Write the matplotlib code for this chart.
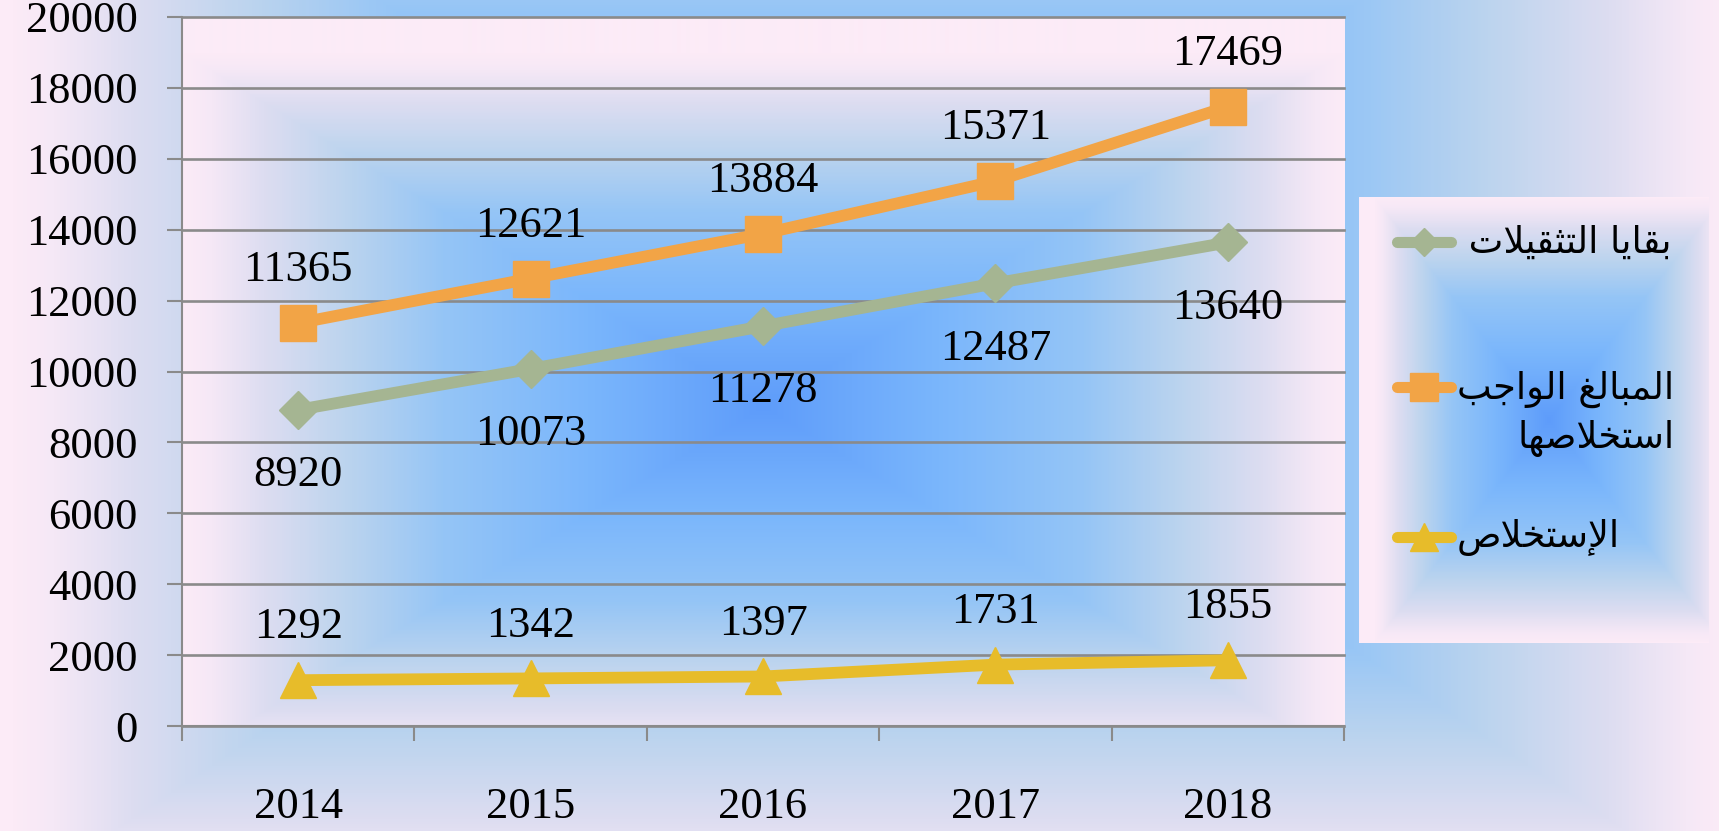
import numpy as np
import matplotlib
matplotlib.use("Agg")
import matplotlib.pyplot as plt
from matplotlib.colors import LinearSegmentedColormap
from matplotlib.lines import Line2D

# data
years = ["2014", "2015", "2016", "2017", "2018"]
remaining = [8920, 10073, 11278, 12487, 13640]   # بقايا التثقيلات
due = [11365, 12621, 13884, 15371, 17469]        # المبالغ الواجب استخلاصها
collected = [1292, 1342, 1397, 1731, 1855]       # الإستخلاص
yticks = list(range(0, 20001, 2000))

# Arabic labels written with presentation forms (logical order), reversed for display
lbl_remaining = "\uFE91\uFED8\uFE8E\uFEF3\uFE8E \uFE8D\uFEDF\uFE98\uFE9C\uFED8\uFEF4\uFEFC\uFE95 "
lbl_due_1 = "\uFE8D\uFEDF\uFEE4\uFE92\uFE8E\uFEDF\uFECE \uFE8D\uFEDF\uFEEE\uFE8D\uFE9F\uFE90"
lbl_due_2 = "\uFE8D\uFEB3\uFE98\uFEA8\uFEFC\uFEBB\uFEEC\uFE8E"
lbl_collected = "\uFE8D\uFEF9\uFEB3\uFE98\uFEA8\uFEFC\uFEB9"


def visual(s):
    return s[::-1]


c_green = "#A5B592"
c_orange = "#F2A446"
c_yellow = "#E7BC2A"
c_grid = "#8A8A8A"
num_font = "Liberation Serif"
num_size = 32

grad_cmap = LinearSegmentedColormap.from_list("bg", [
    (0.0, "#5E9CFA"), (0.3, "#7AB6FC"), (0.55, "#95C5F6"),
    (0.72, "#BCD4EE"), (0.86, "#DDDDF1"), (0.95, "#F5E8F6"), (1.0, "#FCEBF7")])


def rect_grad(w, h, cx, cy, sx, sy):
    yy, xx = np.mgrid[0:h, 0:w] + 0.5
    t = np.maximum(np.abs(xx - cx) / sx, np.abs(yy - cy) / sy)
    return grad_cmap(np.clip(t, 0, 1))


W, H = 1719, 831
fig = plt.figure(figsize=(W / 100, H / 100), dpi=100)

# figure background
bg = fig.add_axes([0, 0, 1, 1], zorder=-10)
bg.imshow(rect_grad(W, H, 870, 327, 860, 573), extent=[0, W, H, 0], aspect="auto")
bg.set_xlim(0, W)
bg.set_ylim(H, 0)
bg.axis("off")

# main plot
L, R, T, B = 182, 1344, 17, 726
ax = fig.add_axes([L / W, 1 - B / H, (R - L) / W, (B - T) / H])
ax.set_facecolor("none")
ax.imshow(rect_grad(R - L, B - T, (R - L) / 2, (B - T) * 0.55, (R - L) / 2, (B - T) / 2),
          extent=[0.5, 5.5, 0, 20000], aspect="auto", zorder=0)

x = np.arange(1, len(years) + 1)
ax.plot(x, remaining, color=c_green, lw=8.5, marker="D", ms=19, zorder=4)
ax.plot(x, due, color=c_orange, lw=8.5, marker="s", ms=26.5, zorder=4)
ax.plot(x, collected, color=c_yellow, lw=8.5, marker="^", ms=26.5, zorder=4)

txt = dict(fontfamily=num_font, fontsize=num_size, ha="center", va="center")
for xi, v in zip(x, due):
    ax.annotate(str(v), (xi, v), xytext=(0, 38), textcoords="offset points", **txt)
for xi, v in zip(x, remaining):
    ax.annotate(str(v), (xi, v), xytext=(0, -47), textcoords="offset points", **txt)
for xi, v in zip(x, collected):
    ax.annotate(str(v), (xi, v), xytext=(0, 38), textcoords="offset points", **txt)

ax.set_xlim(0.5, 5.5)
ax.set_ylim(0, 20000)
ax.set_yticks(yticks)
ax.set_yticklabels([str(v) for v in yticks], fontfamily=num_font, fontsize=num_size)
ax.set_xticks(x)
ax.set_xticklabels(years, fontfamily=num_font, fontsize=num_size)
ax.set_xticks(np.arange(0.5, 5.6, 1), minor=True)
ax.tick_params(axis="x", which="major", length=0, pad=44)
ax.tick_params(axis="x", which="minor", length=10.8, width=1.5, color=c_grid)
ax.tick_params(axis="y", length=10.8, width=1.5, color=c_grid, pad=21)

ax.grid(axis="y", color=c_grid, lw=1.9, zorder=1)
for gl in ax.get_ygridlines():
    gl.set_clip_on(False)
ax.set_axisbelow(True)
for s in ["top", "right"]:
    ax.spines[s].set_visible(False)
for s in ["left", "bottom"]:
    ax.spines[s].set_color(c_grid)
    ax.spines[s].set_linewidth(1.5)

# legend box (drawn by hand so the RTL labels wrap like the original)
LL, LR, LT, LB = 1359, 1709, 197, 643
lax = fig.add_axes([LL / W, 1 - LB / H, (LR - LL) / W, (LB - LT) / H])
lw_, lh_ = LR - LL, LB - LT
lax.imshow(rect_grad(lw_, lh_, lw_ / 2 + 15, lh_ / 2, lw_ / 2, lh_ / 2),
           extent=[0, lw_, lh_, 0], aspect="auto")
lax.set_xlim(0, lw_)
lax.set_ylim(lh_, 0)
lax.axis("off")

entries = [
    (c_green, "D", 14.5, 45, visual(lbl_remaining), 45),
    (c_orange, "s", 20, 190, visual(lbl_due_1) + "\n" + visual(lbl_due_2), 217),
    (c_yellow, "^", 20, 340, visual(lbl_collected), 340),
]
for col, mk, size, yh, label, yt in entries:
    lax.add_line(Line2D([38, 92], [yh, yh], color=col, lw=8, solid_capstyle="round"))
    lax.add_line(Line2D([65], [yh], color=col, marker=mk, ms=size, ls="none"))
    lax.text(98, yt, label, fontfamily=["DejaVu Sans"], fontsize=26.5,
             ha="left", va="center", multialignment="right", linespacing=1.4)

fig.savefig("out.png", dpi=100)
